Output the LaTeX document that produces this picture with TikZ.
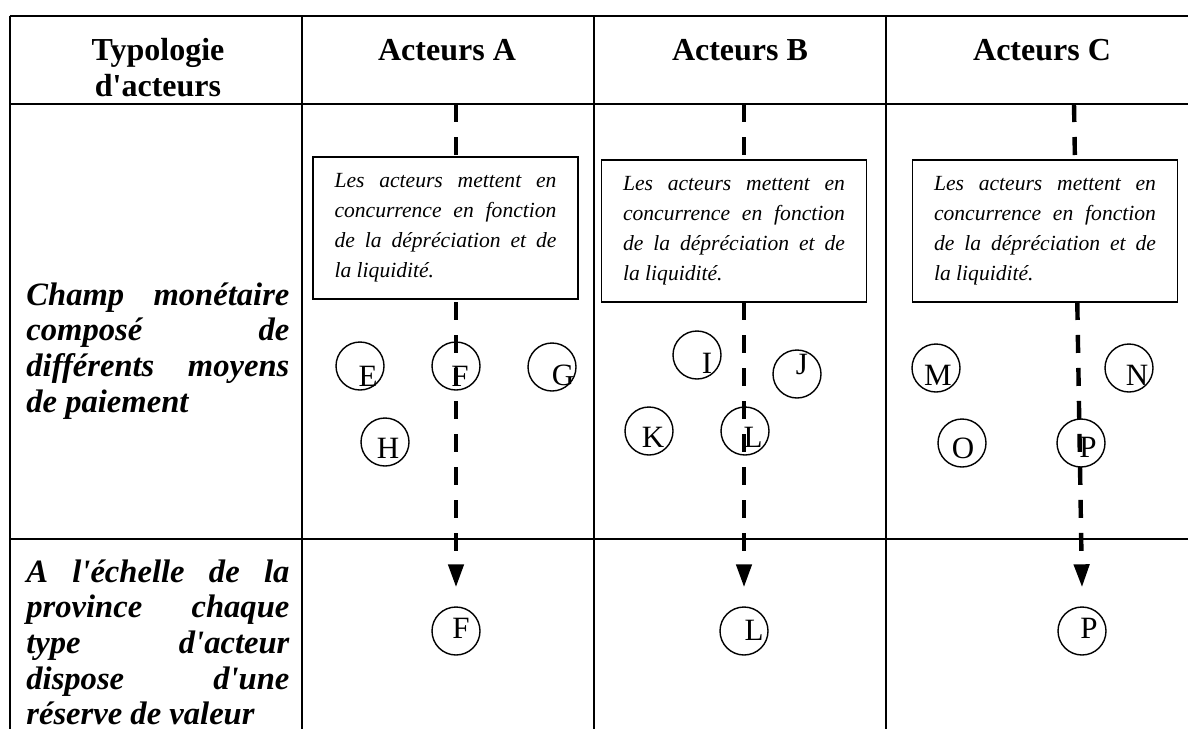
\documentclass[tikz,border=0pt]{standalone}
\usepackage{fontspec}
\newfontfamily\lib{Liberation Serif}
\usetikzlibrary{arrows.meta,calc}
\begin{document}
\begin{tikzpicture}[x=0.5pt,y=-0.5pt,
  tline/.style={line width=1pt},
  hdr/.style={font=\lib\bfseries\fontsize{16}{18}\selectfont, anchor=base, inner sep=0pt},
  sidetext/.style={font=\lib\bfseries\itshape\fontsize{16.3}{17.85}\selectfont, text width=131.5pt, align=justify, anchor=base west, inner sep=0pt},
  note/.style={draw, line width=0.8pt, fill=white, minimum width=132.5pt, minimum height=71pt, text width=111pt, align=justify, inner xsep=10.75pt, inner ysep=0pt, font=\lib\itshape\fontsize{10.8}{15}\selectfont},
  circ/.style={circle, draw, line width=0.7pt, minimum size=24pt, inner sep=0pt},
  ltr/.style={font=\lib\fontsize{15.5}{15.5}\selectfont, anchor=base, inner sep=0pt},
  dashline/.style={line width=2.2pt, dash pattern=on 9pt off 7.5pt, -{Triangle[length=11.5pt,width=7.5pt]}}
]
\useasboundingbox (0,0) rectangle (1188,729);
\fill[white] (0,0) rectangle (1188,729);
\clip (0,0) rectangle (1188,729);
% table
\draw[tline] (9.6,16) -- (1188,16);
\draw[tline] (9.6,104) -- (1188,104);
\draw[tline] (9.6,539) -- (1188,539);
\draw[tline] (9.6,16) -- (9.6,729);
\draw[tline] (302,16) -- (302,729);
\draw[tline] (594,16) -- (594,729);
\draw[tline] (886,16) -- (886,729);
% headers
\node[hdr] (t1) at (158,60) {Typologie};
\node[hdr] (t2) at (158,96) {d'acteurs};
\node[hdr] (hA) at (447,60) {Acteurs A};
\node[hdr] (hB) at (740,60) {Acteurs B};
\node[hdr] (hC) at (1042,60) {Acteurs C};
% side texts
\node[sidetext] (s1) at (26,305) {Champ monétaire\linebreak composé de\linebreak différents moyens\linebreak de paiement};
\node[sidetext] (s2) at (26,582) {A l'échelle de la\linebreak province chaque\linebreak type d'acteur\linebreak dispose d'une\linebreak réserve de valeur};
% circles row 2
\node[circ] (E) at (360,366) {};
\node[circ] (F) at (456,366) {};
\node[circ] (G) at (552,367) {};
\node[circ] (H) at (385,442) {};
\node[circ] (I) at (697,355) {};
\node[circ] (J) at (797,374) {};
\node[circ] (K) at (649,431) {};
\node[circ] (L) at (745,431) {};
\node[circ] (M) at (936,368) {};
\node[circ] (N) at (1129,368) {};
\node[circ] (O) at (962,443) {};
\node[circ] (P) at (1081,443) {};
% circles row 3
\node[circ] (F2) at (456,631) {};
\node[circ] (L2) at (744,631) {};
\node[circ] (P2) at (1082,631) {};
% letters
\node[ltr] (Et) at (368,386) {E};
\node[ltr] (Ft) at (460,386) {F};
\node[ltr] (Gt) at (563,385) {G};
\node[ltr] (Ht) at (388,458) {H};
\node[ltr] (It) at (707,373) {I};
\node[ltr] (Jt) at (802,374) {J};
\node[ltr] (Kt) at (653,447) {K};
\node[ltr] (Lt) at (753,447) {L};
\node[ltr] (Mt) at (938,385) {M};
\node[ltr] (Nt) at (1137,385) {N};
\node[ltr] (Ot) at (963,458) {O};
\node[ltr] (Pt) at (1088,457) {P};
\node[ltr] (F2t) at (461,638) {F};
\node[ltr] (L2t) at (754,640) {L};
\node[ltr] (P2t) at (1089,638) {P};
% dashed connectors
\coordinate (tA) at (456,104);
\coordinate (tB) at (744,104);
\coordinate (tC) at (1074,104);
\draw[dashline] (tA) -- ([yshift=9.5pt]F2.north);
\draw[dashline] (tB) -- ([yshift=9.5pt]L2.north);
\draw[dashline] (tC) -- ([yshift=9.5pt]P2.north);
% boxes
\node[note] (bA) at (445.5,228) {Les acteurs mettent en\linebreak concurrence en fonction\linebreak de la dépréciation et de\linebreak la liquidité.};
\node[note] (bB) at (734,231) {Les acteurs mettent en\linebreak concurrence en fonction\linebreak de la dépréciation et de\linebreak la liquidité.};
\node[note] (bC) at (1045,231) {Les acteurs mettent en\linebreak concurrence en fonction\linebreak de la dépréciation et de\linebreak la liquidité.};
\end{tikzpicture}
\end{document}
